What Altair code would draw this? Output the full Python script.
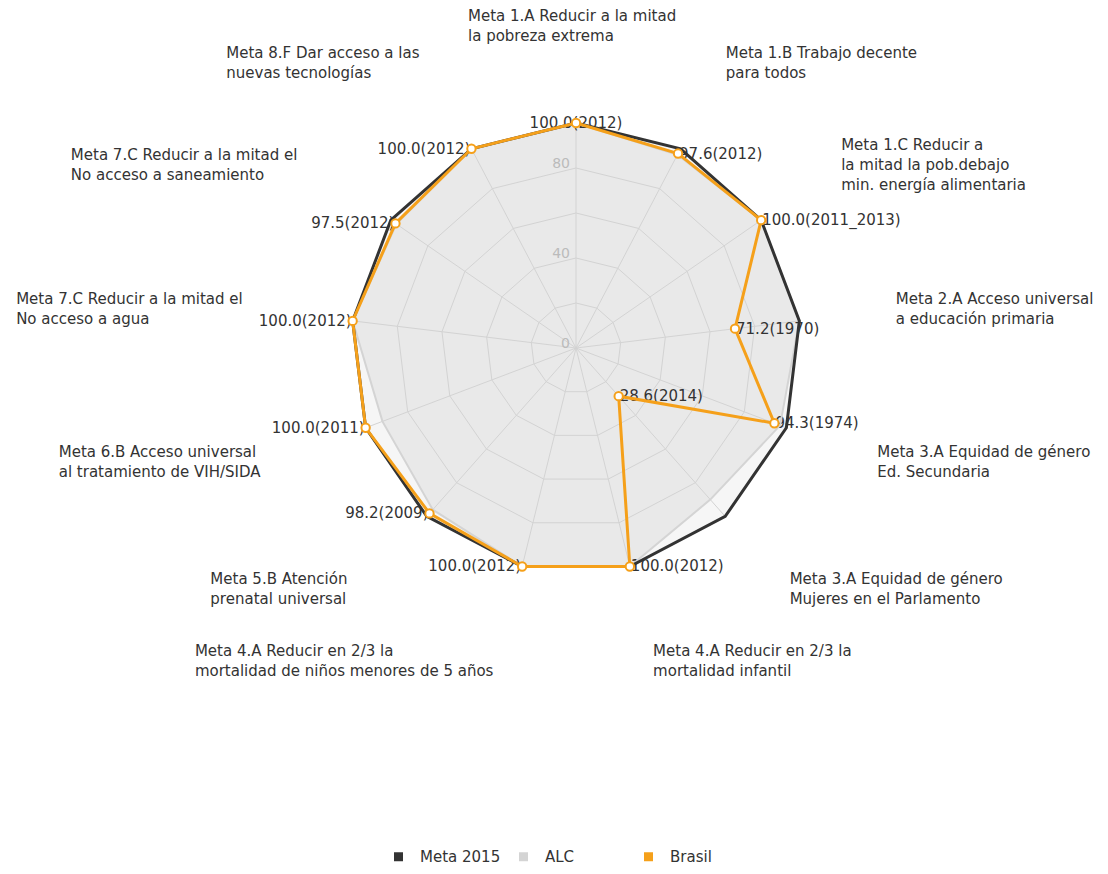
import altair as alt
import pandas as pd

# ---------------- data ----------------
categories = [
    "Meta 1.A Reducir a la mitad\n la pobreza extrema",
    "Meta 1.B Trabajo decente\n para todos",
    "Meta 1.C Reducir a\n la mitad la pob.debajo\n min. energía alimentaria",
    "Meta 2.A Acceso universal\n a educación primaria",
    "Meta 3.A Equidad de género\n Ed. Secundaria",
    "Meta 3.A Equidad de género\n Mujeres en el Parlamento",
    "Meta 4.A Reducir en 2/3 la\n mortalidad infantil",
    "Meta 4.A Reducir en 2/3 la\n mortalidad de niños menores de 5 años",
    "Meta 5.B Atención\n prenatal universal",
    "Meta 6.B Acceso universal\n al tratamiento de VIH/SIDA",
    "Meta 7.C Reducir a la mitad el\n No acceso a agua",
    "Meta 7.C Reducir a la mitad el\n No acceso a saneamiento",
    "Meta 8.F Dar acceso a las\n nuevas tecnologías",
]
meta_2015 = [100, 100, 100, 100, 100, 100, 100, 100, 100, 100, 100, 100, 100]
alc = [100, 97, 100, 100, 97, 90, 100, 100, 96, 92, 100, 97, 100]
brasil = [100.0, 97.6, 100.0, 71.2, 94.3, 28.6, 100.0, 100.0, 98.2, 100.0, 100.0, 97.5, 100.0]
brasil_years = ["2012", "2012", "2011_2013", "1970", "1974", "2014", "2012",
                "2012", "2009", "2011", "2012", "2012", "2012"]
series_names = ["Meta 2015", "ALC", "Brasil"]
series_colors = ["#333333", "#d4d4d4", "#f5a01a"]
grid_levels = [20, 40, 60, 80, 100]
tick_labels = [0, 40, 80]

N = len(categories)

# ---------------- tables ----------------
rows = []
for name, vals in zip(series_names, [meta_2015, alc, brasil]):
    for i, v in enumerate(vals):
        rows.append({"idx": i, "series": name, "v": v,
                     "year": brasil_years[i] if name == "Brasil" else ""})
series_df = pd.DataFrame(rows)

grid_df = pd.DataFrame([{"idx": i, "level": lv, "v": lv}
                        for lv in grid_levels for i in range(N)])
spoke_df = pd.DataFrame({"idx": list(range(N)), "v": [grid_levels[-1]] * N})
cat_df = pd.DataFrame({
    "idx": list(range(N)),
    "cat": categories,
    "maxlen": [max(len(s) for s in c.split("\n")) for c in categories],
    "nlines": [len(c.split("\n")) for c in categories],
})
tick_df = pd.DataFrame({"v": tick_labels, "idx": [0] * len(tick_labels)})

# ---------------- geometry helpers ----------------
W, H = 1092, 858
K = 2.25                      # pixels per unit
CX, CY = 568, 340             # centre in plot-area pixels
XD = [-CX / K, (W - CX) / K]
YD = [-(H - CY) / K, CY / K]
LABEL_R = 143.2               # radius of category labels (units)
CHAR_W = 8.0 / K              # estimated character width (units)
LINE_H = 20                   # px

THETA = f"datum.idx * 2 * PI / {N}"


def polar(chart, r="datum.v"):
    return chart.transform_calculate(
        theta=THETA
    ).transform_calculate(
        x=f"{r} * sin(datum.theta)",
        y=f"{r} * cos(datum.theta)",
        s="sin(datum.theta)",
    )


X = lambda f="x": alt.X(f"{f}:Q", scale=alt.Scale(domain=XD, nice=False, zero=False), axis=None)
Y = lambda f="y": alt.Y(f"{f}:Q", scale=alt.Scale(domain=YD, nice=False, zero=False), axis=None)

FONT = "DejaVu Sans"
FS = 15
TXT = "#333333"
color_scale = alt.Scale(domain=series_names, range=series_colors)
legend = alt.Legend(
    title=None, orient="none", direction="horizontal", columns=3,
    gridAlign="all", legendX=383, legendY=841, symbolType="square",
    symbolSize=16, symbolStrokeWidth=5, labelFontSize=FS, labelFont=FONT,
    labelColor=TXT, labelOffset=14, columnPadding=10, padding=0,
)

base = alt.Chart(series_df)

# fills
meta_fill = polar(base.transform_filter("datum.series == 'Meta 2015'")).mark_line(
    interpolate="linear-closed", fill="#f6f6f6", stroke="transparent"
).encode(x=X(), y=Y(), order="idx:Q")
alc_fill = polar(base.transform_filter("datum.series == 'ALC'")).mark_line(
    interpolate="linear-closed", fill="#e9e9e9", stroke="transparent"
).encode(x=X(), y=Y(), order="idx:Q")

# grid
rings = polar(alt.Chart(grid_df)).mark_line(
    interpolate="linear-closed", color="#d3d3d3", strokeWidth=1
).encode(x=X(), y=Y(), detail="level:N", order="idx:Q")
spokes = polar(alt.Chart(spoke_df)).transform_calculate(zero="0").mark_rule(
    color="#d3d3d3", strokeWidth=1
).encode(x=X("zero"), y=Y("zero"), x2="x:Q", y2="y:Q")

ticks = polar(alt.Chart(tick_df)).transform_calculate(t="''+datum.v").mark_text(
    align="right", baseline="middle", dx=-6, dy=-4, font=FONT, fontSize=14, color="#bbbbbb"
).encode(x=X(), y=Y(), text="t:N")

# data labels for Brasil (drawn beneath lines)
lab_base = polar(base.transform_filter("datum.series == 'Brasil'")).transform_calculate(
    lab="format(datum.v, '.1f') + '(' + datum.year + ')'"
)
lab_r = lab_base.transform_filter("datum.s > 0.01").mark_text(
    align="left", baseline="middle", dx=1, font=FONT, fontSize=FS, color=TXT
).encode(x=X(), y=Y(), text="lab:N")
lab_l = lab_base.transform_filter("datum.s < -0.01").mark_text(
    align="right", baseline="middle", dx=-1, font=FONT, fontSize=FS, color=TXT
).encode(x=X(), y=Y(), text="lab:N")
lab_c = lab_base.transform_filter("abs(datum.s) <= 0.01").mark_text(
    align="center", baseline="middle", font=FONT, fontSize=FS, color=TXT
).encode(x=X(), y=Y(), text="lab:N")

# series lines
def series_line(name, width):
    return polar(base.transform_filter(f"datum.series == '{name}'")).mark_line(
        interpolate="linear-closed", strokeWidth=width
    ).encode(
        x=X(), y=Y(), order="idx:Q",
        color=alt.Color("series:N", scale=color_scale, legend=legend),
    )

alc_line = series_line("ALC", 2)
meta_line = series_line("Meta 2015", 3)
brasil_line = series_line("Brasil", 3)

brasil_pts = polar(base.transform_filter("datum.series == 'Brasil'")).mark_point(
    shape="circle", filled=True, fill="white", stroke="#f5a01a", strokeWidth=2,
    size=70, opacity=1
).encode(x=X(), y=Y())

# category labels (block vertically centred on the anchor)
cat_labels = alt.Chart(cat_df).transform_calculate(
    theta=THETA
).transform_calculate(
    s="sin(datum.theta)",
    ay=f"{LABEL_R} * cos(datum.theta) + (datum.nlines - 1) * {LINE_H / 2 / K}",
    ax=f"{LABEL_R} * sin(datum.theta)",
    w=f"datum.maxlen * {CHAR_W}",
).transform_calculate(
    lx="datum.s > 0.01 ? datum.ax : (datum.s < -0.01 ? datum.ax - datum.w : datum.ax - datum.w / 2)"
).mark_text(
    align="left", baseline="middle", lineBreak="\n", lineHeight=LINE_H,
    font=FONT, fontSize=FS, color=TXT
).encode(x=X("lx"), y=Y("ay"), text="cat:N")

chart = alt.layer(
    meta_fill, alc_fill, rings, spokes, ticks,
    lab_r, lab_l, lab_c,
    alc_line, meta_line, brasil_line, brasil_pts, cat_labels,
).properties(
    width=W, height=H, padding=0
).configure_view(stroke=None)

chart.save("out.html", embed_options={"renderer": "svg", "actions": False})
